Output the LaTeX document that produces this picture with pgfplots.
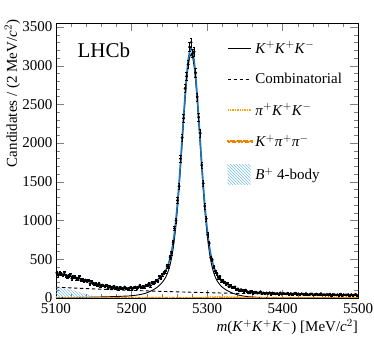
\documentclass[border=0pt]{standalone}
\usepackage{fontspec}
\setmainfont{Liberation Serif}
\usepackage{pgfplots}
\usepackage{pgfplotstable}
\pgfplotsset{compat=1.18}
\usetikzlibrary{patterns}

\definecolor{fitblue}{RGB}{28,118,188}
\definecolor{hatchblue}{RGB}{120,190,235}
\definecolor{pkkorange}{RGB}{250,165,20}
\definecolor{kpporange}{RGB}{240,130,0}

\newcommand{\fs}{\fontsize{15}{17}\selectfont}
\newcommand{\K}{\textit{K}}
\newcommand{\p}{\textit{π}}

% bin centre, candidates, total fit, K+K+K- signal
\pgfplotstableread{
x n tot sig
5101 324 315 4
5103 292 313 4
5105 324 311 4.5
5107 312 308 4.7
5109 294 305 5
5111 326 301 5.2
5113 292 296 5.3
5115 275 291 5.5
5117 292 286 5.7
5119 298 281 6
5121 252 277 6.2
5123 272 272 6.5
5125 275 266 6.8
5127 250 260 7.1
5129 250 254 7.4
5131 276 249 7.7
5133 228 243 8
5135 237 237 8.3
5137 214 232 8.6
5139 232 226 9
5141 213 220 9.4
5143 227 213 9.8
5145 181 208 10.2
5147 212 202 10.6
5149 193 196 11
5151 182 191 11.4
5153 185 185 11.8
5155 161 180 12.2
5157 189 175 12.6
5159 156 170 13
5161 168 165 13.6
5163 159 161 14.2
5165 150 158 14.8
5167 160 154 15.4
5169 126 150 16
5171 149 146 16.6
5173 131 144 17.2
5175 141 142 17.8
5177 151 139 18.4
5179 122 139 19
5181 136 137 19.8
5183 115 136 20.6
5185 137 135 21.4
5187 130 134 22.2
5189 119 133 23
5191 142 131 23.8
5193 123 131 24.6
5195 114 130 25.4
5197 128 130 26.5
5199 138 132 29
5201 116 132 31
5203 133 132 32
5205 142 134 35
5207 130 136 37
5209 138 139 41
5211 164 141 44
5213 135 145 48
5215 150 148 52
5217 140 152 57
5219 166 158 63
5221 160 164 70
5223 187 171 78
5225 157 180 87
5227 200 188 96
5229 198 198 107
5231 204 210 119
5233 226 222 132
5235 220 237 147
5237 275 253 164
5239 259 271 183
5241 303 293 205
5243 323 319 232
5245 345 349 263
5247 410 390 304
5249 410 442 357
5251 527 509 424
5253 581 596 512
5255 720 709 625
5257 899 852 769
5259 1000 1029 947
5261 1260 1242 1160
5263 1443 1489 1408
5265 1799 1765 1684
5267 2069 2055 1975
5269 2321 2350 2270
5271 2706 2629 2550
5273 2863 2874 2796
5275 3015 3065 2987
5277 3240 3185 3108
5279 3300 3227 3150
5281 3160 3184 3108
5283 3180 3062 2986
5285 2907 2869 2794
5287 2596 2622 2547
5289 2334 2339 2265
5291 2128 2042 1968
5293 1715 1748 1674
5295 1479 1471 1396
5297 1185 1220 1144
5299 1024 1005 927
5301 815 824 745
5303 709 678 598
5305 522 562 482
5307 492 472 391
5309 404 404 323
5311 344 352 270
5313 316 311 229
5315 262 280 198
5317 276 254 172
5319 222 233 151
5321 225 216 134
5323 203 200 119
5325 183 186 106
5327 187 174 95
5329 145 164 86
5331 163 153 76
5333 136 143 67
5335 139 134 59
5337 144 126 52
5339 108 118 45
5341 117 112 40
5343 94 106 35
5345 109 101 31
5347 99 96 27
5349 86 92 24
5351 102 88 21
5353 83 85 19
5355 73 81 16
5357 82 78 14.5
5359 86 76 13
5361 62 74 12
5363 73 72 11
5365 76 70 10
5367 64 68 9
5369 66 67 8.5
5371 81 66 8
5373 58 64 7
5375 65 63 6.5
5377 54 62 6
5379 66 61 5
5381 58 60 4.8
5383 69 60 4.6
5385 46 59 4.4
5387 65 58 4.2
5389 58 58 4
5391 54 57 3.8
5393 59 57 3.6
5395 48 56 3.4
5397 66 56 3.2
5399 50 55 3
5401 59 55 2.8
5403 55 54 2.7
5405 53 54 2.6
5407 61 53.5 2.5
5409 42 53 2.4
5411 58 52 2.2
5413 47 51.7 2.1
5415 54 51.3 2
5417 62 51 1.9
5419 44 50.6 1.9
5421 54 50 1.8
5423 41 49.6 1.7
5425 55 49.3 1.7
5427 51 49 1.6
5429 44 48.6 1.6
5431 58 48 1.5
5433 46 47.6 1.4
5435 41 47.3 1.4
5437 50 47 1.3
5439 54 46.6 1.3
5441 36 46 1.2
5443 46 45.6 1.2
5445 50 45.3 1.1
5447 42 45 1.1
5449 44 44.6 1
5451 57 44 1
5453 38 43.7 1
5455 45 43.4 0.9
5457 37 43.1 0.9
5459 47 42.8 0.9
5461 41 42.5 0.8
5463 50 42.2 0.8
5465 31 41.9 0.8
5467 47 41.6 0.7
5469 41 41.3 0.7
5471 38 41 0.7
5473 43 40.7 0.7
5475 33 40.4 0.6
5477 49 40.1 0.6
5479 35 39.8 0.6
5481 43 39.5 0.6
5483 40 39.2 0.6
5485 38 38.9 0.5
5487 45 38.6 0.5
5489 29 38.3 0.5
5491 43 38 0.5
5493 34 37.8 0.5
5495 40 37.6 0.5
5497 47 37.3 0.5
5499 31 37 0.5
}\mkkk

\pgfplotstableread{
x y
5100 140
5120 130.4
5140 121.5
5160 113.2
5180 105.5
5200 98.3
5220 91.6
5240 85.3
5260 79.5
5280 74.1
5300 69.0
5320 64.3
5340 59.9
5360 55.8
5380 52.0
5400 48.5
5420 45.2
5440 42.1
5460 39.2
5480 36.5
5500 34.0
}\comb

\pgfplotstableread{
x y
5100 0
5280 0
5290 3
5300 10
5310 14
5320 15
5330 13
5340 10
5350 7
5360 4
5380 2
5400 1
5500 0
}\pkk

\pgfplotstableread{
x y
5100 4
5200 3.5
5300 3
5400 2.5
5500 2
}\kpp

\pgfplotstableread{
x y
5100 135
5110 125
5120 105
5130 80
5140 50
5150 25
5160 8
5170 0
}\fourbody

\begin{document}
\begin{tikzpicture}
\useasboundingbox (-56pt,-41pt) rectangle (318pt,298pt);
\begin{axis}[
    scale only axis,
    width=302pt,
    height=275pt,
    xmin=5100, xmax=5500,
    ymin=0, ymax=3550,
    xtick={5100,5200,...,5500},
    ytick={0,500,...,3500},
    minor x tick num=4,
    minor y tick num=4,
    tick align=inside,
    major tick length=8pt,
    minor tick length=4pt,
    scaled ticks=false,
    /pgf/number format/1000 sep={},
    /pgf/number format/assume math mode=true,
    tick label style={font=\fs},
    xticklabel style={yshift=-2pt},
    label style={font=\fs},
    xlabel={\textit{m}(\K$^{+}$\K$^{+}$\K$^{-}$) [MeV/\textit{c}$^{2}$]},
    ylabel={Candidates / (2 MeV/\textit{c}$^{2}$)},
    xlabel style={at={(rel axis cs:1,-0.078)}, anchor=north east, inner sep=0pt},
    ylabel style={at={(rel axis cs:-0.118,1.012)}, anchor=south east, inner sep=0pt},
    legend cell align=left,
    legend style={at={(rel axis cs:0.555,0.948)}, anchor=north west,
        draw=none, fill=none, font=\fs, row sep=14.5pt},
    legend image code/.code={\draw[#1] (0pt,0pt) -- (23pt,0pt);},
]
\addplot[black, line width=0.9pt] table[x=x, y=sig] {\mkkk};
\addlegendentry{\K$^{+}$\K$^{+}$\K$^{-}$}
\addplot[black, line width=0.9pt, dash pattern=on 3.5pt off 2.5pt] table {\comb};
\addlegendentry{Combinatorial}
\addplot[pkkorange, line width=1.4pt, dash pattern=on 1.4pt off 1pt] table {\pkk};
\addlegendentry{\p$^{+}$\K$^{+}$\K$^{-}$}
% legend sample drawn as separate solid strokes so that its orange shows
\addplot[kpporange, line width=1.5pt, dash pattern=on 3pt off 1.2pt on 1.4pt off 1.2pt,
    legend image code/.code={
        \foreach \s in {0,6.5,13,19.5}{
            \fill[kpporange] (\s pt,-0.8pt) rectangle ++(3pt,1.6pt);
            \fill[kpporange] (\s pt+4.2pt,-0.8pt) rectangle ++(1.3pt,1.6pt);
        }}]
    table {\kpp};
\addlegendentry{\K$^{+}$\p$^{+}$\p$^{-}$}
\addplot[draw=none, pattern=north west lines, pattern color=hatchblue,
    legend image code/.code={\fill[pattern=north west lines, pattern color=hatchblue, draw=none] (0pt,-10pt) rectangle (23pt,10pt);}]
    table {\fourbody} \closedcycle;
\addlegendentry{\textit{B}$^{+}$ 4-body}
\addplot[fitblue, line width=1.6pt, forget plot] table[x=x, y=tot] {\mkkk};
\addplot[black, only marks, mark=*, mark size=1.2pt, forget plot,
    error bars/.cd, y dir=both, y explicit, error bar style={line width=0.5pt}]
    table[x=x, y=n, y error expr=sqrt(\thisrow{n})] {\mkkk};
\node[anchor=base west, font=\fontsize{21}{23}\selectfont] at (rel axis cs:0.06,0.876) {LHCb};
\end{axis}
\end{tikzpicture}
\end{document}
